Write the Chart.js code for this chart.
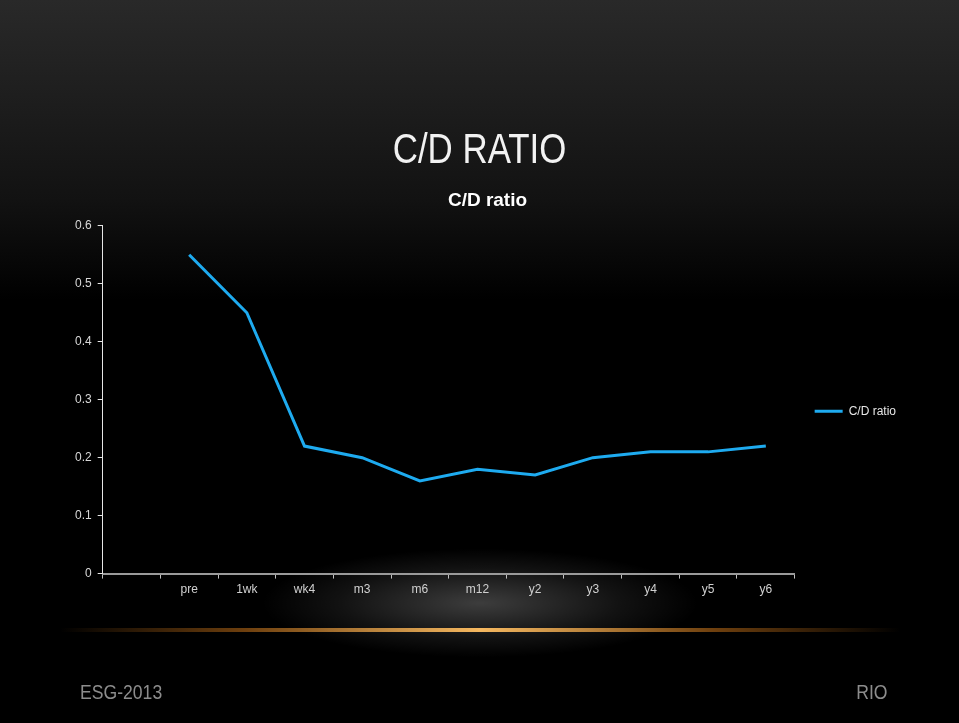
<!DOCTYPE html>
<html>
<head>
<meta charset="utf-8">
<script src="https://cdn.jsdelivr.net/npm/chart.js@4"></script>
<style>
  html, body { margin:0; padding:0; }
  body {
    width:959px; height:723px; overflow:hidden; position:relative;
    background: linear-gradient(to bottom, #292929 0px, #121212 200px, #000 300px);
    font-family: "Liberation Sans", Arial, sans-serif;
  }
  #slideTitle {
    position:absolute; left:0; width:959px; top:124px; text-align:center;
    color:#f2f2f2; font-size:42px; line-height:50px;
    transform: scaleX(0.83); transform-origin: 480px 0;
  }
  #glow {
    position:absolute; left:260px; top:548px; width:440px; height:110px;
    background: radial-gradient(ellipse at center, rgba(255,255,255,0.24) 0%, rgba(255,255,255,0.07) 45%, rgba(255,255,255,0) 70%);
  }
  #orange {
    position:absolute; left:60px; top:628px; width:840px; height:4px;
    background: linear-gradient(to right, rgba(190,110,20,0) 0%, rgba(200,115,25,0.55) 22%, #f5b860 50%, rgba(200,115,25,0.55) 78%, rgba(190,110,20,0) 100%);
    filter: blur(0.6px);
  }
  .foot { position:absolute; top:681px; color:#8c8c8c; font-size:20px; transform: scaleX(0.88); }
  #chartBox { position:absolute; left:0; top:189px; width:959px; height:416px; }
</style>
</head>
<body>
<div id="glow"></div>
<div id="orange"></div>
<div id="slideTitle">C/D RATIO</div>
<div class="foot" style="left:80px; transform-origin:left top;">ESG-2013</div>
<div class="foot" style="right:71px; transform-origin:right top;">RIO</div>
<div id="chartBox"><canvas id="chCD"></canvas></div>

<script>
// chart data
var categories = ['', 'pre', '1wk', 'wk4', 'm3', 'm6', 'm12', 'y2', 'y3', 'y4', 'y5', 'y6'];
var cdRatio = [null, 0.55, 0.45, 0.22, 0.20, 0.16, 0.18, 0.17, 0.20, 0.21, 0.21, 0.22];
var seriesName = 'C/D ratio';

var tickFont = {family: '"Liberation Sans", Arial', size: 12};

var chCD = document.getElementById("chCD");

if (chCD) {
  new Chart(chCD, {
    type: 'line',
    data: {
      labels: categories,
      datasets: [
        {
          label: seriesName,
          data: cdRatio,
          borderColor: '#1eabf0',
          backgroundColor: '#1eabf0',
          borderWidth: 3,
          pointRadius: 0,
          tension: 0
        }
      ]
    },
    options: {
      responsive: true,
      maintainAspectRatio: false,
      animation: false,
      layout: {padding: {left: 69, right: 53, top: 0, bottom: 4}},
      plugins: {
        title: {
          display: true,
          text: 'C/D ratio',
          color: '#ffffff',
          font: {family: '"Liberation Sans", Arial', size: 19, weight: 'bold'},
          padding: {top: 0, bottom: 14}
        },
        legend: {
          position: 'right',
          title: {display: true, text: ' ', padding: 9, font: {size: 12}},
          labels: {
            color: '#e6e6e6',
            font: tickFont,
            usePointStyle: true,
            pointStyle: 'line',
            pointStyleWidth: 28,
            padding: 20
          }
        },
        tooltip: {enabled: false}
      },
      scales: {
        x: {
          offset: true,
          grid: {display: true, offset: true, drawOnChartArea: false, color: '#bfbfbf', tickLength: 5},
          border: {color: '#9a9a9a', width: 2},
          ticks: {color: '#d0d0d0', font: tickFont, autoSkip: false, maxRotation: 0, padding: 4}
        },
        y: {
          min: 0,
          max: 0.6,
          grid: {display: true, drawOnChartArea: false, color: '#e6e6e6', tickLength: 5},
          border: {color: '#e6e6e6', width: 1},
          ticks: {stepSize: 0.1, color: '#d9d9d9', font: tickFont, padding: 6}
        }
      }
    }
  });
}
</script>
</body>
</html>
